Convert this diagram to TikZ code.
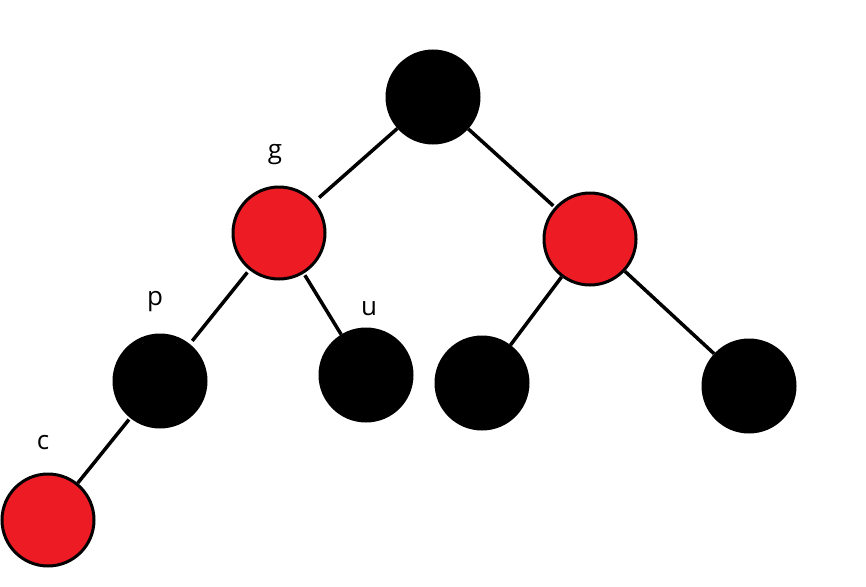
\documentclass[tikz,border=0pt]{standalone}
\usepackage{fontspec}
\setmainfont{Open Sans}
\definecolor{pred}{HTML}{ED1C24}
\begin{document}
\begin{tikzpicture}[x=1pt,y=-1pt,
  rbnode/.style={circle,draw=black,line width=3pt,minimum size=92pt,inner sep=0pt},
  rednode/.style={rbnode,fill=pred},
  blacknode/.style={rbnode,fill=black},
  edge/.style={line width=3.5pt},
  lbl/.style={font=\fontsize{26}{30}\selectfont,inner sep=0pt}]
\useasboundingbox (0,0) rectangle (866,586);
\node[blacknode] (root) at (433,97) {};
\node[rednode] (g) at (279,233) {};
\node[rednode] (r) at (590,239) {};
\node[blacknode] (p) at (160,381) {};
\node[blacknode] (u) at (366,375) {};
\node[blacknode] (rl) at (482,383) {};
\node[blacknode] (rr) at (749,386) {};
\node[rednode] (c) at (48,520) {};
\node[lbl] (lg) at (275,155) {g};
\node[lbl] (lp) at (155,302) {p};
\node[lbl] (lu) at (369,309) {u};
\node[lbl] (lc) at (43,443) {c};
\draw[edge,shorten >=6pt] (root) -- (g);
\draw[edge,shorten >=2pt] (root) -- (r);
\draw[edge,shorten <=3pt,shorten >=4pt] (g) -- (p);
\draw[edge,shorten <=2pt] (g) -- (u);
\draw[edge] (r) -- (rl);
\draw[edge] (r) -- (rr);
\draw[edge,shorten <=2pt] (p) -- (c);
\end{tikzpicture}
\end{document}
